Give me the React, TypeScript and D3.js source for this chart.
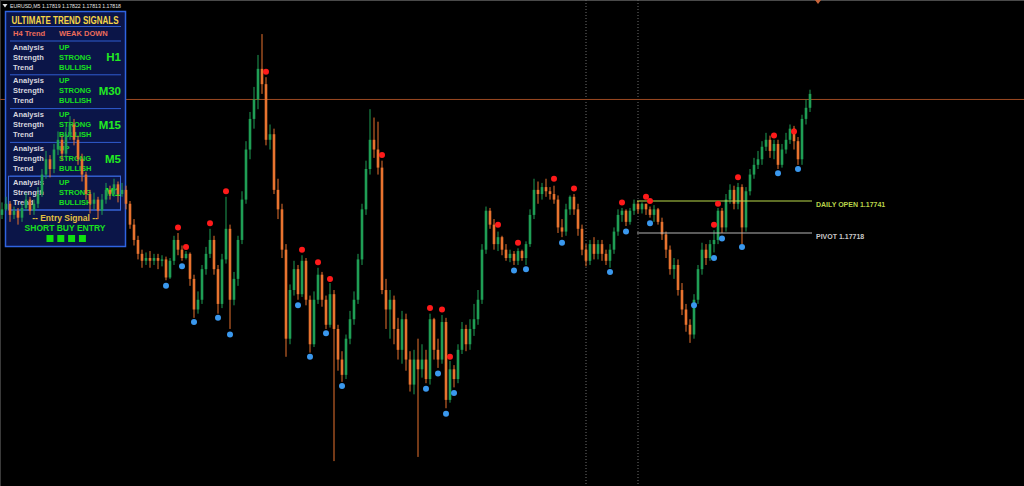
import React from 'react';
import * as d3 from 'd3';

const W = 1024;
const H = 486;

// EURUSD M5 candles (prices)
const opens = [
  1.17731, 1.17735, 1.17739, 1.17731, 1.17734, 1.17729, 1.17736, 1.17742, 1.17734, 1.17739,
  1.17746, 1.17760, 1.17771, 1.17764, 1.17778, 1.17785, 1.17775, 1.17789, 1.17796, 1.17785,
  1.17771, 1.17760, 1.17746, 1.17739, 1.17742, 1.17734, 1.17742, 1.17749, 1.17746, 1.17753,
  1.17746, 1.17749, 1.17739, 1.17724, 1.17713, 1.17703, 1.17698, 1.17700, 1.17698, 1.17700,
  1.17698, 1.17699, 1.17686, 1.17698, 1.17713, 1.17706, 1.17700, 1.17703, 1.17685, 1.17663,
  1.17670, 1.17692, 1.17703, 1.17713, 1.17692, 1.17667, 1.17699, 1.17721, 1.17670, 1.17685,
  1.17713, 1.17742, 1.17778, 1.17800, 1.17814, 1.17836, 1.17825, 1.17785, 1.17789, 1.17749,
  1.17735, 1.17706, 1.17642, 1.17677, 1.17692, 1.17674, 1.17698, 1.17670, 1.17638, 1.17670,
  1.17688, 1.17670, 1.17652, 1.17674, 1.17649, 1.17627, 1.17616, 1.17642, 1.17656, 1.17670,
  1.17699, 1.17735, 1.17764, 1.17785, 1.17778, 1.17765, 1.17677, 1.17663, 1.17670, 1.17649,
  1.17634, 1.17656, 1.17627, 1.17609, 1.17627, 1.17620, 1.17627, 1.17613, 1.17656, 1.17634,
  1.17627, 1.17654, 1.17598, 1.17620, 1.17613, 1.17634, 1.17649, 1.17638, 1.17649, 1.17656,
  1.17670, 1.17706, 1.17734, 1.17724, 1.17710, 1.17715, 1.17706, 1.17700, 1.17703, 1.17698,
  1.17705, 1.17700, 1.17710, 1.17731, 1.17749, 1.17746, 1.17751, 1.17748, 1.17746, 1.17742,
  1.17722, 1.17719, 1.17735, 1.17744, 1.17735, 1.17721, 1.17706, 1.17698, 1.17710, 1.17703,
  1.17710, 1.17703, 1.17698, 1.17706, 1.17719, 1.17731, 1.17734, 1.17726, 1.17734, 1.17739,
  1.17735, 1.17739, 1.17735, 1.17731, 1.17735, 1.17726, 1.17717, 1.17706, 1.17692, 1.17695,
  1.17677, 1.17663, 1.17652, 1.17645, 1.17670, 1.17692, 1.17706, 1.17700, 1.17710, 1.17713,
  1.17734, 1.17722, 1.17742, 1.17749, 1.17739, 1.17751, 1.17722, 1.17748, 1.17760, 1.17767,
  1.17771, 1.17780, 1.17785, 1.17777, 1.17782, 1.17767, 1.17778, 1.17785, 1.17793, 1.17784,
  1.17771, 1.17800, 1.17808,
];

const highs = [
  1.17740, 1.17744, 1.17741, 1.17737, 1.17736, 1.17739, 1.17747, 1.17744, 1.17742, 1.17751,
  1.17764, 1.17777, 1.17774, 1.17782, 1.17791, 1.17788, 1.17794, 1.17802, 1.17800, 1.17788,
  1.17775, 1.17762, 1.17749, 1.17747, 1.17744, 1.17746, 1.17754, 1.17752, 1.17757, 1.17755,
  1.17754, 1.17752, 1.17741, 1.17728, 1.17716, 1.17706, 1.17704, 1.17705, 1.17703, 1.17703,
  1.17702, 1.17701, 1.17700, 1.17716, 1.17718, 1.17709, 1.17705, 1.17704, 1.17688, 1.17676,
  1.17695, 1.17708, 1.17721, 1.17716, 1.17695, 1.17703, 1.17744, 1.17724, 1.17690, 1.17716,
  1.17748, 1.17784, 1.17805, 1.17823, 1.17846, 1.17861, 1.17830, 1.17796, 1.17793, 1.17757,
  1.17739, 1.17710, 1.17681, 1.17698, 1.17695, 1.17702, 1.17700, 1.17673, 1.17676, 1.17693,
  1.17690, 1.17673, 1.17682, 1.17677, 1.17652, 1.17633, 1.17645, 1.17662, 1.17676, 1.17703,
  1.17739, 1.17770, 1.17807, 1.17801, 1.17798, 1.17770, 1.17685, 1.17677, 1.17673, 1.17657,
  1.17662, 1.17660, 1.17633, 1.17634, 1.17642, 1.17638, 1.17634, 1.17660, 1.17657, 1.17642,
  1.17659, 1.17657, 1.17626, 1.17623, 1.17638, 1.17654, 1.17652, 1.17656, 1.17667, 1.17677,
  1.17710, 1.17737, 1.17736, 1.17728, 1.17719, 1.17716, 1.17710, 1.17706, 1.17705, 1.17707,
  1.17706, 1.17712, 1.17735, 1.17757, 1.17755, 1.17754, 1.17757, 1.17751, 1.17752, 1.17745,
  1.17728, 1.17739, 1.17745, 1.17746, 1.17739, 1.17724, 1.17710, 1.17713, 1.17715, 1.17713,
  1.17713, 1.17706, 1.17710, 1.17722, 1.17735, 1.17736, 1.17735, 1.17736, 1.17742, 1.17741,
  1.17740, 1.17739, 1.17737, 1.17738, 1.17736, 1.17729, 1.17719, 1.17709, 1.17700, 1.17699,
  1.17682, 1.17667, 1.17656, 1.17674, 1.17695, 1.17711, 1.17710, 1.17713, 1.17720, 1.17736,
  1.17736, 1.17746, 1.17753, 1.17752, 1.17754, 1.17753, 1.17751, 1.17764, 1.17772, 1.17777,
  1.17784, 1.17790, 1.17788, 1.17785, 1.17785, 1.17782, 1.17790, 1.17796, 1.17795, 1.17787,
  1.17803, 1.17814, 1.17821,
];

const lows = [
  1.17728, 1.17734, 1.17726, 1.17728, 1.17724, 1.17726, 1.17734, 1.17731, 1.17731, 1.17736,
  1.17744, 1.17757, 1.17758, 1.17761, 1.17774, 1.17770, 1.17772, 1.17785, 1.17781, 1.17767,
  1.17755, 1.17742, 1.17732, 1.17735, 1.17728, 1.17731, 1.17739, 1.17742, 1.17744, 1.17740,
  1.17744, 1.17735, 1.17721, 1.17709, 1.17699, 1.17693, 1.17695, 1.17693, 1.17695, 1.17692,
  1.17694, 1.17684, 1.17685, 1.17695, 1.17702, 1.17698, 1.17699, 1.17680, 1.17657, 1.17660,
  1.17667, 1.17688, 1.17700, 1.17688, 1.17660, 1.17664, 1.17696, 1.17649, 1.17666, 1.17680,
  1.17710, 1.17739, 1.17771, 1.17793, 1.17807, 1.17818, 1.17781, 1.17778, 1.17746, 1.17728,
  1.17700, 1.17629, 1.17638, 1.17673, 1.17670, 1.17672, 1.17666, 1.17632, 1.17636, 1.17667,
  1.17665, 1.17649, 1.17650, 1.17554, 1.17619, 1.17611, 1.17613, 1.17638, 1.17652, 1.17667,
  1.17695, 1.17731, 1.17760, 1.17772, 1.17760, 1.17674, 1.17649, 1.17642, 1.17638, 1.17627,
  1.17624, 1.17619, 1.17604, 1.17602, 1.17557, 1.17614, 1.17610, 1.17609, 1.17627, 1.17621,
  1.17624, 1.17592, 1.17596, 1.17607, 1.17610, 1.17631, 1.17633, 1.17634, 1.17644, 1.17652,
  1.17667, 1.17703, 1.17721, 1.17706, 1.17705, 1.17702, 1.17698, 1.17697, 1.17695, 1.17695,
  1.17698, 1.17695, 1.17708, 1.17728, 1.17739, 1.17742, 1.17744, 1.17742, 1.17739, 1.17718,
  1.17715, 1.17716, 1.17731, 1.17731, 1.17716, 1.17702, 1.17694, 1.17695, 1.17699, 1.17699,
  1.17698, 1.17695, 1.17693, 1.17703, 1.17716, 1.17726, 1.17723, 1.17724, 1.17731, 1.17732,
  1.17732, 1.17731, 1.17729, 1.17726, 1.17724, 1.17713, 1.17700, 1.17688, 1.17685, 1.17673,
  1.17659, 1.17647, 1.17639, 1.17642, 1.17667, 1.17688, 1.17695, 1.17698, 1.17704, 1.17710,
  1.17718, 1.17719, 1.17739, 1.17735, 1.17735, 1.17710, 1.17719, 1.17745, 1.17757, 1.17764,
  1.17767, 1.17777, 1.17772, 1.17771, 1.17764, 1.17765, 1.17775, 1.17782, 1.17778, 1.17767,
  1.17767, 1.17796, 1.17805,
];

const closes = [
  1.17735, 1.17739, 1.17731, 1.17734, 1.17729, 1.17736, 1.17742, 1.17734, 1.17739, 1.17746,
  1.17760, 1.17771, 1.17764, 1.17778, 1.17785, 1.17775, 1.17789, 1.17796, 1.17785, 1.17771,
  1.17760, 1.17746, 1.17739, 1.17742, 1.17734, 1.17742, 1.17749, 1.17746, 1.17753, 1.17746,
  1.17749, 1.17739, 1.17724, 1.17713, 1.17703, 1.17698, 1.17700, 1.17698, 1.17700, 1.17698,
  1.17699, 1.17686, 1.17698, 1.17713, 1.17706, 1.17700, 1.17703, 1.17685, 1.17663, 1.17670,
  1.17692, 1.17703, 1.17713, 1.17692, 1.17667, 1.17699, 1.17721, 1.17670, 1.17685, 1.17713,
  1.17742, 1.17778, 1.17800, 1.17814, 1.17836, 1.17825, 1.17785, 1.17789, 1.17749, 1.17735,
  1.17706, 1.17642, 1.17677, 1.17692, 1.17674, 1.17698, 1.17670, 1.17638, 1.17670, 1.17688,
  1.17670, 1.17652, 1.17674, 1.17649, 1.17627, 1.17616, 1.17642, 1.17656, 1.17670, 1.17699,
  1.17735, 1.17764, 1.17785, 1.17778, 1.17765, 1.17677, 1.17663, 1.17670, 1.17649, 1.17634,
  1.17656, 1.17627, 1.17609, 1.17627, 1.17620, 1.17627, 1.17613, 1.17656, 1.17634, 1.17627,
  1.17654, 1.17598, 1.17620, 1.17613, 1.17634, 1.17649, 1.17638, 1.17649, 1.17656, 1.17670,
  1.17706, 1.17734, 1.17724, 1.17710, 1.17715, 1.17706, 1.17700, 1.17703, 1.17698, 1.17705,
  1.17700, 1.17710, 1.17731, 1.17749, 1.17746, 1.17751, 1.17748, 1.17746, 1.17742, 1.17722,
  1.17719, 1.17735, 1.17744, 1.17735, 1.17721, 1.17706, 1.17698, 1.17710, 1.17703, 1.17710,
  1.17703, 1.17698, 1.17706, 1.17719, 1.17731, 1.17734, 1.17726, 1.17734, 1.17739, 1.17735,
  1.17739, 1.17735, 1.17731, 1.17735, 1.17726, 1.17717, 1.17706, 1.17692, 1.17695, 1.17677,
  1.17663, 1.17652, 1.17645, 1.17670, 1.17692, 1.17706, 1.17700, 1.17710, 1.17713, 1.17734,
  1.17722, 1.17742, 1.17749, 1.17739, 1.17751, 1.17722, 1.17748, 1.17760, 1.17767, 1.17771,
  1.17780, 1.17785, 1.17777, 1.17782, 1.17767, 1.17778, 1.17785, 1.17793, 1.17784, 1.17771,
  1.17800, 1.17808, 1.17818,
];

// signal dots (candle index, price of the dot)
const sellIdx = [44, 46, 52, 56, 66, 75, 79, 82, 95, 107, 110, 112, 124, 129, 138, 143, 155, 161, 162, 178, 179, 184, 193, 198];
const sellPrice = [
  1.17722, 1.17708, 1.17725, 1.17748, 1.17834, 1.17706, 1.17697, 1.17685, 1.17774, 1.17664,
  1.17663, 1.17629, 1.17724, 1.17711, 1.17757, 1.17750, 1.17740, 1.17744, 1.17741, 1.17724,
  1.17739, 1.17758, 1.17788, 1.17791,
];
const buyIdx = [41, 45, 48, 54, 57, 74, 77, 81, 85, 106, 109, 111, 113, 128, 131, 140, 152, 156, 162, 173, 178, 180, 185, 194, 199];
const buyPrice = [
  1.17680, 1.17694, 1.17654, 1.17657, 1.17645, 1.17666, 1.17629, 1.17646, 1.17608, 1.17606,
  1.17617, 1.17588, 1.17603, 1.17691, 1.17692, 1.17711, 1.17690, 1.17719, 1.17725, 1.17666,
  1.17700, 1.17714, 1.17708, 1.17761, 1.17764,
];

const dailyOpen = 1.17741;
const pivot = 1.17718;
const bidPrice = 1.17814;
const separatorIdx = [146, 159];
const dayStartIdx = 159;

const headerText = 'EURUSD,M5  1.17819 1.17822 1.17813 1.17818';
const panelTitle = 'ULTIMATE TREND SIGNALS';
const h4Label = 'H4 Trend';
const h4Value = 'WEAK DOWN';
const timeframes = ['H1', 'M30', 'M15', 'M5', 'M1'];
const rowLabels = ['Analysis', 'Strength', 'Trend'];
const analysisVals = ['UP', 'UP', 'UP', 'UP', 'UP'];
const strengthVals = ['STRONG', 'STRONG', 'STRONG', 'STRONG', 'STRONG'];
const trendVals = ['BULLISH', 'BULLISH', 'BULLISH', 'BULLISH', 'BULLISH'];
const entryTitle = '-- Entry Signal --';
const entryText = 'SHORT BUY ENTRY';
const entryBoxes = [1, 2, 3, 4];

const BULL = '#1f9e55';
const BEAR = '#e8732f';
const FONT = '"Liberation Sans Narrow", "Arial Narrow", "Liberation Sans", Arial, sans-serif';
const FONT2 = '"Liberation Sans", Arial, sans-serif';

export default function App() {
  const n = closes.length;
  const x = d3.scaleLinear().domain([0, n - 1]).range([2, 810]);
  const y = d3.scaleLinear().domain([1.175361, 1.178855]).range([H, 0]);
  const bodyW = 2.6;

  const candles = d3.range(n).map((i) => {
    const o = opens[i], c = closes[i];
    const up = c >= o;
    const top = y(Math.max(o, c));
    const bot = y(Math.min(o, c));
    return { i, up, top, h: Math.max(1, bot - top), hi: y(highs[i]), lo: y(lows[i]) };
  });

  const lineStart = x(dayStartIdx) - 1;
  const lineEnd = x(n - 1) + 2;

  const blockY = (k: number) => 47 + 33.8 * k;
  const sepYs = d3.range(6).map((k) => 41 + 33.8 * k);

  return (
    <div style={{ position: 'fixed', left: 0, top: 0, width: W, height: H, background: '#000' }}>
      <svg width={W} height={H} style={{ display: 'block', background: '#000' }}>
        <rect x={0} y={0} width={W} height={H} fill="#000" />
        <line x1={0} x2={W} y1={0.5} y2={0.5} stroke="#4a4a4a" strokeWidth={1} />
        <line x1={0.5} x2={0.5} y1={0} y2={H} stroke="#3a3a3a" strokeWidth={1} />

        {/* period separators */}
        {separatorIdx.map((s) => (
          <line key={s} x1={x(s)} x2={x(s)} y1={0} y2={H} stroke="#6e6e6e" strokeWidth={1} strokeDasharray="1,2" />
        ))}

        {/* bid line */}
        <line x1={0} x2={W} y1={y(bidPrice)} y2={y(bidPrice)} stroke="#9c4a22" strokeWidth={1} />

        {/* panel */}
        <g>
          <rect x={5.5} y={11.5} width={120} height={235} fill="#0b1548" stroke="#2f63e0" strokeWidth={1.5} />
          <text x={65} y={23.5} fill="#f6d646" fontFamily={FONT} fontWeight="bold" fontSize={10} textAnchor="middle" textLength={107} lengthAdjust="spacingAndGlyphs">{panelTitle}</text>
          <line x1={10} x2={121} y1={26.5} y2={26.5} stroke="#2f5cd0" strokeWidth={1} />
          <text x={13} y={36} fill="#ec6c5a" fontFamily={FONT} fontWeight="bold" fontSize={7.5}>{h4Label}</text>
          <text x={59} y={36} fill="#ec6c5a" fontFamily={FONT} fontWeight="bold" fontSize={7.5}>{h4Value}</text>
          {sepYs.map((sy, k) => (
            <line key={k} x1={10} x2={121} y1={sy} y2={sy} stroke="#2f5cd0" strokeWidth={1} />
          ))}
          <rect x={8.5} y={sepYs[4]} width={112} height={sepYs[5] - sepYs[4]} fill="none" stroke="#3a66d8" strokeWidth={1} />
          {timeframes.map((tf, k) => {
            const vals = [analysisVals[k], strengthVals[k], trendVals[k]];
            return (
              <g key={tf}>
                {rowLabels.map((lab, r) => (
                  <text key={lab} x={13} y={blockY(k) + 10 * r + 2.6} fill="#d6d6de" fontFamily={FONT} fontWeight="bold" fontSize={7.5}>{lab}</text>
                ))}
                {vals.map((v, r) => (
                  <text key={r} x={59} y={blockY(k) + 10 * r + 2.6} fill="#18e01e" fontFamily={FONT} fontWeight="bold" fontSize={7.5}>{v}</text>
                ))}
                <text x={121} y={blockY(k) + 10 + 4.2} fill="#22ea22" fontFamily={FONT2} fontWeight="bold" fontSize={11.5} textAnchor="end">{tf}</text>
              </g>
            );
          })}
          <text x={65} y={221} fill="#e4c040" fontFamily={FONT} fontWeight="bold" fontSize={8.5} textAnchor="middle">{entryTitle}</text>
          <text x={65} y={231} fill="#18e01e" fontFamily={FONT} fontWeight="bold" fontSize={8.5} textAnchor="middle">{entryText}</text>
          {entryBoxes.map((b, k) => (
            <rect key={b} x={46.5 + 10.8 * k} y={235} width={7} height={7} fill="#10e010" />
          ))}
        </g>

        {/* candles */}
        <g>
          {candles.map((c) => (
            <g key={c.i}>
              <line x1={x(c.i)} x2={x(c.i)} y1={c.hi} y2={c.lo} stroke={c.up ? BULL : BEAR} strokeWidth={1} />
              <rect x={x(c.i) - bodyW / 2} y={c.top} width={bodyW} height={c.h} fill={c.up ? BULL : BEAR} />
            </g>
          ))}
        </g>

        {/* daily open / pivot */}
        <line x1={lineStart} x2={lineEnd} y1={y(dailyOpen)} y2={y(dailyOpen)} stroke="#b9d94a" strokeWidth={1.2} />
        <line x1={lineStart} x2={lineEnd} y1={y(pivot)} y2={y(pivot)} stroke="#b4b4b4" strokeWidth={1.2} />
        <text x={816} y={y(dailyOpen) + 6.5} fill="#b9d44a" fontFamily={FONT2} fontSize={7} fontWeight="bold">{`DAILY OPEN ${dailyOpen.toFixed(5)}`}</text>
        <text x={816} y={y(pivot) + 6.5} fill="#c8c8c8" fontFamily={FONT2} fontSize={7} fontWeight="bold">{`PIVOT ${pivot.toFixed(5)}`}</text>

        {/* signals */}
        {sellIdx.map((si, k) => (
          <circle key={'s' + k} cx={x(si)} cy={y(sellPrice[k])} r={3} fill="#ff1a1a" />
        ))}
        {buyIdx.map((bi, k) => (
          <circle key={'b' + k} cx={x(bi)} cy={y(buyPrice[k])} r={3} fill="#3a98ee" />
        ))}

        {/* header */}
        <path d="M2.5,4 L7.5,4 L5,7.5 Z" fill="#dddddd" />
        <text x={10} y={8} fill="#e6e6e6" fontFamily={FONT2} fontSize={6} textLength={111} lengthAdjust="spacingAndGlyphs">{headerText}</text>
        {/* chart shift marker */}
        <path d="M815,0 L821,0 L818,4 Z" fill="#c8643a" />
      </svg>
    </div>
  );
}
